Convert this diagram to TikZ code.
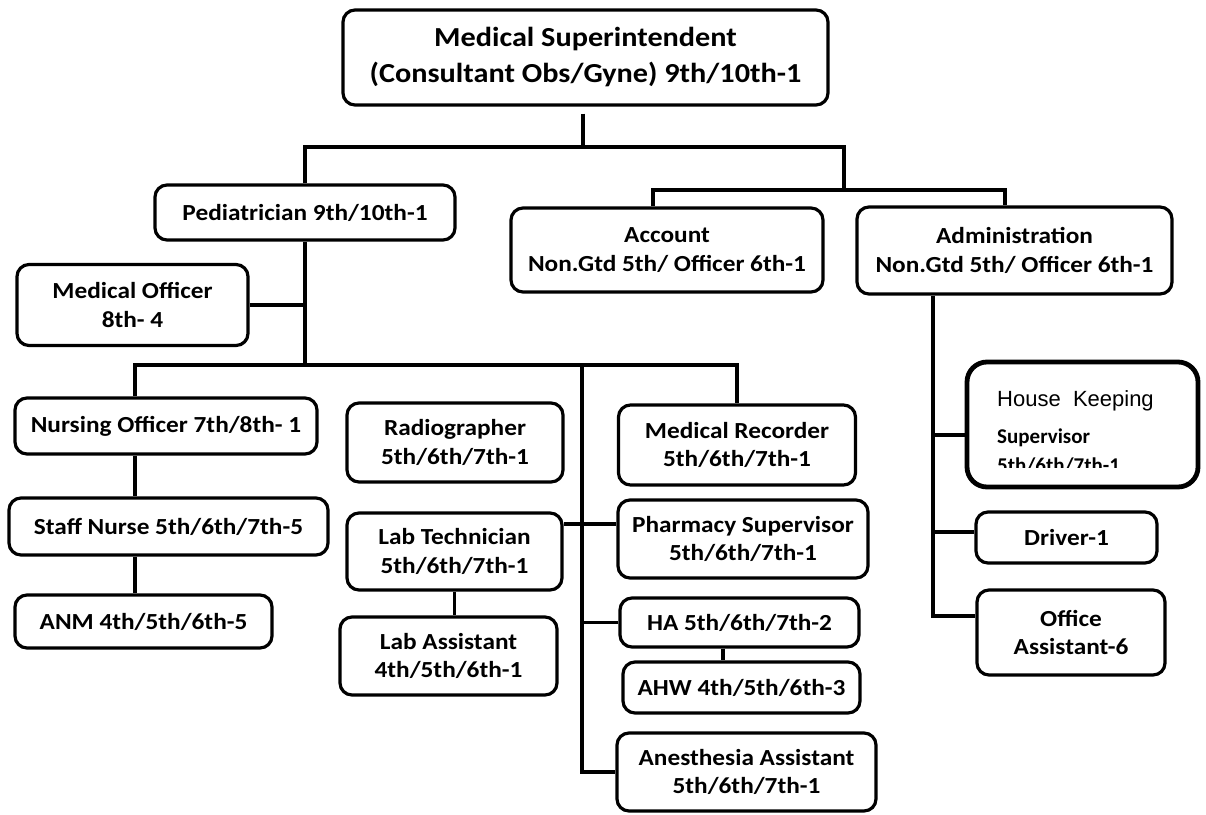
\documentclass[tikz,border=0pt]{standalone}
\usepackage{fontspec}
\setmainfont{Carlito}[FakeStretch=1.1]
\newfontfamily\hkfont{Liberation Sans}
\newfontfamily\hksub{Carlito}
\usetikzlibrary{calc}

\begin{document}
\begin{tikzpicture}[x=1pt,y=-1pt]
\tikzstyle{post}=[draw, rounded corners=12pt, line width=3.2pt, align=center, inner sep=0pt, font=\fontsize{23}{28.5}\selectfont\bfseries]
\tikzstyle{link}=[line width=3.4pt]

\useasboundingbox (0,0) rectangle (1206,814);

\node[post, minimum width=485, minimum height=95, font=\fontsize{27.5}{36}\selectfont\bfseries] (sup) at (585.5,57.5) {Medical Superintendent\\(Consultant Obs/Gyne) 9th/10th-1};
\node[post, minimum width=300, minimum height=55] (ped) at (305,212.5) {Pediatrician 9th/10th-1};
\node[post, minimum width=312, minimum height=84] (acc) at (667,250) {Account\\Non.Gtd 5th/ Officer 6th-1};
\node[post, minimum width=315, minimum height=87] (adm) at (1014.5,250.5) {Administration\\Non.Gtd 5th/ Officer 6th-1};
\node[post, minimum width=231, minimum height=81] (mo) at (132.5,305) {Medical Officer\\8th- 4};

\node[post, minimum width=302, minimum height=56] (nur) at (166,426) {Nursing Officer 7th/8th- 1};
\node[post, minimum width=319, minimum height=57] (stf) at (168.5,526.5) {Staff Nurse 5th/6th/7th-5};
\node[post, minimum width=257, minimum height=53] (anm) at (143.5,621.5) {ANM 4th/5th/6th-5};

\node[post, minimum width=216, minimum height=79] (rad) at (455,442.5) {Radiographer\\5th/6th/7th-1};
\node[post, minimum width=215, minimum height=77] (labt) at (454.5,551.5) {Lab Technician\\5th/6th/7th-1};
\node[post, minimum width=217, minimum height=78] (laba) at (448.5,656) {Lab Assistant\\4th/5th/6th-1};

\node[post, minimum width=237, minimum height=80] (mrec) at (737,445) {Medical Recorder\\5th/6th/7th-1};
\node[post, minimum width=250, minimum height=78] (phar) at (743,539) {Pharmacy Supervisor\\5th/6th/7th-1};
\node[post, minimum width=239, minimum height=49] (ha) at (739.5,622.5) {HA 5th/6th/7th-2};
\node[post, minimum width=237, minimum height=51] (ahw) at (741.5,687.5) {AHW 4th/5th/6th-3};
\node[post, minimum width=259, minimum height=78] (anes) at (746.5,772) {Anesthesia Assistant\\5th/6th/7th-1};

\node[draw, rounded corners=20pt, line width=4.8pt, minimum width=231, minimum height=125] (hk) at (1082.5,424.5) {};
\node[anchor=base west, inner sep=0pt, font=\fontsize{22}{26}\selectfont\hkfont] (hkt) at (997,406) {House\ \ Keeping};
\node[anchor=base west, inner sep=0pt, font=\fontsize{21}{26}\selectfont\hksub\bfseries] (hks) at (997,443) {Supervisor};
\begin{scope}
\clip (967,362) rectangle (1198,467); % only the top of this line shows
\node[anchor=base west, inner sep=0pt, font=\fontsize{21}{26}\selectfont\hksub\bfseries] (hkg) at (997,472) {5th/6th/7th-1};
\end{scope}
\node[post, minimum width=181, minimum height=51] (drv) at (1066.5,537.5) {Driver-1};
\node[post, minimum width=188, minimum height=85] (off) at (1071,632.5) {Office\\Assistant-6};

\coordinate (b1) at (583,147);
\coordinate (j1) at (844,190);
\coordinate (b3) at (305,365);
\coordinate (nx) at (135,0);
\coordinate (mv) at (582,0);
\coordinate (hx) at (723,0);
\coordinate (ax) at (933,0);

\draw[link] ($(sup.south)+(-2.5,7)$) -- (b1);
\draw[link] (ped.north) |- (b1) -| (j1);
\draw[link] ($(acc.north)+(-14,0)$) |- (j1) -| ($(adm.north)+(-9.5,0)$);

\draw[link] (ped.south) -- (b3);
\draw[link] (mo.east) -- (mo.east -| ped.south);
\draw[link] (nur.north -| nx) |- (b3) -| (mrec.north);
\draw[link] (nur.south -| nx) -- (stf.north -| nx);
\draw[link] (stf.south -| nx) -- (anm.north -| nx);

\draw[link] (mv |- b3) -- (anes.west -| mv) -- (anes.west);
\draw[link] (ha.west) -- (ha.west -| mv);
\draw[link] ($(labt.east)+(0,-27.5)$) -- ($(phar.west)+(0,-15)$);
\draw[link] (labt.south) -- (laba.north -| labt.south);
\draw[link] (ha.south -| hx) -- (ahw.north -| hx);

\draw[link] (adm.south -| ax) |- ($(off.west)+(0,-16.5)$);
\draw[link] ($(hk.west)+(0,10.5)$) coordinate (hkc) -- (hkc -| ax);
\draw[link] ($(drv.west)+(0,-5.5)$) coordinate (drc) -- (drc -| ax);
\end{tikzpicture}
\end{document}
